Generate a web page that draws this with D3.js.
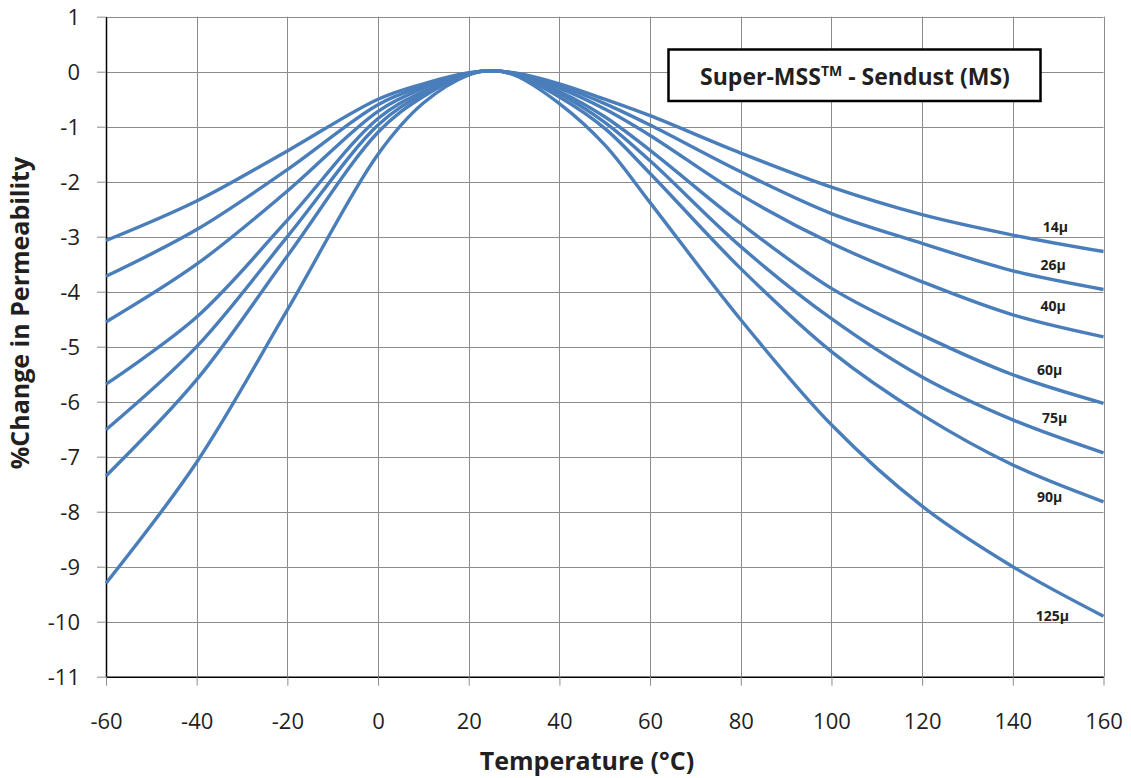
<!DOCTYPE html>
<html><head><meta charset="utf-8">
<script src="https://cdn.jsdelivr.net/npm/d3@7"></script>
<style>body{margin:0;background:#fff} svg{display:block}</style>
</head><body>
<svg id="chart" width="1131" height="778"></svg>
<script>
// ---- data ----
const temperatures = [-60, -40, -20, 0, 10, 20, 25, 30, 40, 50, 60, 80, 100, 120, 140, 160];
const perm14  = [-3.07, -2.35, -1.44, -0.50, -0.22, -0.02, 0.02, -0.02, -0.22, -0.50, -0.80, -1.48, -2.10, -2.60, -2.97, -3.27];
const perm26  = [-3.72, -2.87, -1.78, -0.60, -0.26, -0.03, 0.02, -0.03, -0.26, -0.58, -0.97, -1.82, -2.58, -3.12, -3.62, -3.96];
const perm40  = [-4.55, -3.50, -2.17, -0.72, -0.30, -0.03, 0.02, -0.03, -0.30, -0.68, -1.16, -2.24, -3.12, -3.82, -4.42, -4.82];
const perm60  = [-5.68, -4.46, -2.70, -0.85, -0.36, -0.04, 0.02, -0.04, -0.36, -0.82, -1.43, -2.76, -3.94, -4.79, -5.51, -6.03];
const perm75  = [-6.51, -5.00, -3.00, -0.97, -0.40, -0.04, 0.02, -0.04, -0.40, -0.92, -1.62, -3.18, -4.49, -5.55, -6.33, -6.93];
const perm90  = [-7.35, -5.60, -3.35, -1.10, -0.45, -0.05, 0.02, -0.05, -0.46, -1.03, -1.85, -3.58, -5.09, -6.24, -7.15, -7.82];
const perm125 = [-9.30, -7.10, -4.33, -1.50, -0.57, -0.06, 0.02, -0.06, -0.58, -1.33, -2.38, -4.51, -6.42, -7.90, -9.00, -9.90];
const seriesLabels = ["14μ", "26μ", "40μ", "60μ", "75μ", "90μ", "125μ"];
const seriesValues = [perm14, perm26, perm40, perm60, perm75, perm90, perm125];
const labelTemps  = [149.4, 148.9, 148.9, 148.1, 149.2, 148.1, 148.7];
const labelValues = [-2.82, -3.51, -4.26, -5.42, -6.30, -7.74, -9.90];
const xTicks = [-60, -40, -20, 0, 20, 40, 60, 80, 100, 120, 140, 160];
const yTicks = [1, 0, -1, -2, -3, -4, -5, -6, -7, -8, -9, -10, -11];
const xTitle = "Temperature (°C)";
const yTitle = "%Change in Permeability";
const chartTitleMain = "Super-MSS";
const chartTitleSup = "TM";
const chartTitleRest = " - Sendust (MS)";

// ---- layout ----
const svg = d3.select("#chart");
const plotLeft = 106, plotRight = 1103.5, plotTop = 16.7, plotBottom = 676.7;
const x = d3.scaleLinear().domain([-60, 160]).range([plotLeft, plotRight]);
const y = d3.scaleLinear().domain([-11, 1]).range([plotBottom, plotTop]);
const textColor = "#231f20";
const gridColor = "#8c8c8c";
const lineColor = "#4a7ebb";

// grid
const grid = svg.append("g");
grid.selectAll("line.v").data(xTicks).join("line")
  .attr("x1", d => Math.round(x(d)) + 0.5).attr("x2", d => Math.round(x(d)) + 0.5)
  .attr("y1", plotTop).attr("y2", plotBottom)
  .attr("stroke", gridColor).attr("stroke-width", 1);
grid.selectAll("line.h").data(yTicks).join("line")
  .attr("y1", d => Math.round(y(d)) + 0.5).attr("y2", d => Math.round(y(d)) + 0.5)
  .attr("x1", plotLeft).attr("x2", plotRight)
  .attr("stroke", gridColor).attr("stroke-width", 1);

// axes
const yAxis = svg.append("g").attr("transform", `translate(${plotLeft},0)`)
  .call(d3.axisLeft(y).tickValues(yTicks).tickSize(9).tickSizeOuter(0).tickPadding(17).tickFormat(d => String(d)));
const xAxis = svg.append("g").attr("transform", `translate(0,${plotBottom})`)
  .call(d3.axisBottom(x).tickValues(xTicks).tickSize(9).tickSizeOuter(0).tickFormat(d => String(d)));
[yAxis, xAxis].forEach(a => {
  a.selectAll(".tick line").attr("stroke", gridColor);
  a.select(".domain").attr("stroke", "#000").attr("stroke-width", 1.5);
  a.selectAll("text").attr("fill", textColor)
    .style("font-family", "'Open Sans', sans-serif").style("font-size", "22px");
});
yAxis.selectAll("text").attr("dy", "0.36em");
xAxis.selectAll("text").attr("dy", null).attr("y", 52);

// lines
const lineGen = d3.line()
  .x((d, i) => x(temperatures[i]))
  .y(d => y(d))
  .curve(d3.curveCatmullRom.alpha(0.5));
svg.append("g")
  .selectAll("path").data(seriesValues).join("path")
  .attr("d", d => lineGen(d))
  .attr("fill", "none").attr("stroke", lineColor)
  .attr("stroke-width", 3.4).attr("stroke-linecap", "butt").attr("stroke-linejoin", "round");

// series labels
svg.append("g").selectAll("text").data(seriesLabels).join("text")
  .attr("x", (d, i) => x(labelTemps[i]))
  .attr("y", (d, i) => y(labelValues[i]))
  .attr("dy", "0.36em").attr("text-anchor", "middle")
  .attr("fill", textColor)
  .style("font-family", "'Open Sans', sans-serif").style("font-weight", "bold").style("font-size", "14px")
  .text(d => d);

// axis titles
svg.append("text")
  .attr("x", 587).attr("y", 770).attr("text-anchor", "middle")
  .attr("fill", textColor)
  .style("font-family", "'Open Sans', sans-serif").style("font-weight", "bold").style("font-size", "25px")
  .text(xTitle);
svg.append("text")
  .attr("transform", "translate(29,313) rotate(-90)")
  .attr("text-anchor", "middle")
  .attr("fill", textColor)
  .style("font-family", "'Open Sans', sans-serif").style("font-weight", "bold").style("font-size", "25px")
  .text(yTitle);

// title box
svg.append("rect")
  .attr("x", 668.5).attr("y", 49.5).attr("width", 372).attr("height", 51.5)
  .attr("fill", "#fff").attr("stroke", "#000").attr("stroke-width", 2.5);
const t = svg.append("text")
  .attr("x", 855).attr("y", 85).attr("text-anchor", "middle")
  .attr("fill", textColor)
  .style("font-family", "'Open Sans', sans-serif").style("font-weight", "bold").style("font-size", "23px");
t.append("tspan").text(chartTitleMain);
t.append("tspan").attr("dy", -9).style("font-size", "14px").text(chartTitleSup);
t.append("tspan").attr("dy", 9).text(chartTitleRest);
</script>
</body></html>
